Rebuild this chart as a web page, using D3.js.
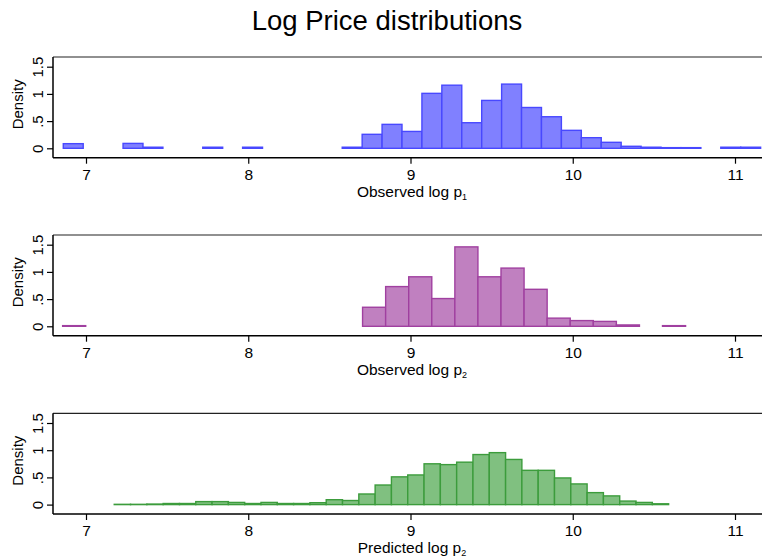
<!DOCTYPE html>
<html>
<head>
<meta charset="utf-8">
<script src="https://cdn.jsdelivr.net/npm/d3@7"></script>
<style>
  html, body { margin: 0; padding: 0; background: #fff; }
  svg { display: block; }
  text { font-family: "Liberation Sans", Arial, Helvetica, sans-serif; fill: #000; }
</style>
</head>
<body>
<svg id="chart" width="762" height="557"></svg>
<script>
// ---------- data ----------
const title = "Log Price distributions";
const xTicks = [7, 8, 9, 10, 11];
const yTicks = [0, 0.5, 1, 1.5];
const yTickLabels = ["0", ".5", "1", "1.5"];

// Panel 1: Observed log p1 (35 bins)
const p1Start = 6.86, p1Width = 0.1228;
const p1Density = [0.085, 0, 0, 0.09, 0.02, 0, 0, 0.02, 0, 0.02,
                   0, 0, 0, 0, 0.02, 0.257, 0.44, 0.31, 1.01, 1.16,
                   0.47, 0.88, 1.18, 0.75, 0.58, 0.33, 0.195, 0.11, 0.037, 0.02,
                   0.012, 0.012, 0, 0.02, 0.02];

// Panel 2: Observed log p2 (27 bins)
const p2Start = 6.856, p2Width = 0.1422;
const p2Density = [0.012, 0, 0, 0, 0, 0, 0, 0, 0, 0,
                   0, 0, 0, 0.35, 0.73, 0.91, 0.51, 1.46, 0.91, 1.07,
                   0.68, 0.15, 0.105, 0.09, 0.025, 0, 0.012];

// Panel 3: Predicted log p2 (34 bins)
const p3Start = 7.174, p3Width = 0.1005;
const p3Density = [0.005, 0.005, 0.01, 0.02, 0.02, 0.055, 0.055, 0.04, 0.02, 0.04,
                   0.02, 0.02, 0.035, 0.09, 0.075, 0.195, 0.36, 0.51, 0.545, 0.75,
                   0.735, 0.78, 0.92, 0.955, 0.83, 0.63, 0.63, 0.49, 0.38, 0.22,
                   0.16, 0.065, 0.04, 0.015];

const panels = [
  { start: p1Start, width: p1Width, dens: p1Density, label: "Observed log p", sub: "1",
    fill: "#8080ff", stroke: "#4848ff", top: 57 },
  { start: p2Start, width: p2Width, dens: p2Density, label: "Observed log p", sub: "2",
    fill: "#c080c0", stroke: "#a040a0", top: 235 },
  { start: p3Start, width: p3Width, dens: p3Density, label: "Predicted log p", sub: "2",
    fill: "#80c080", stroke: "#3c9c3c", top: 413.3 }
];

// ---------- drawing ----------
const svg = d3.select("#chart");

svg.append("text")
  .attr("x", 387).attr("y", 30)
  .attr("text-anchor", "middle")
  .style("font-size", "27.5px")
  .text(title);

const plotLeft = 53, plotRight = 771;
const x = d3.scaleLinear().domain([7, 11]).range([86, 735]);
const panelH = 100.7;

panels.forEach(p => {
  const top = p.top, bottom = top + panelH;
  const y = d3.scaleLinear().domain([0, 1.5]).range([top + 91.3, top + 9.7]);
  const g = svg.append("g");

  // bins
  const bins = p.dens.map((d, i) => ({
    x0: p.start + i * p.width,
    x1: p.start + (i + 1) * p.width,
    d: d
  })).filter(b => b.d > 0);

  g.selectAll("rect.bar").data(bins).enter().append("rect")
    .attr("class", "bar")
    .attr("x", b => x(b.x0))
    .attr("width", b => x(b.x1) - x(b.x0))
    .attr("y", b => y(b.d))
    .attr("height", b => y(0) - y(b.d))
    .attr("fill", p.fill)
    .attr("stroke", p.stroke)
    .attr("stroke-width", 1.4);

  // frame: top, left, bottom
  g.append("line").attr("x1", plotLeft).attr("x2", plotRight)
    .attr("y1", top).attr("y2", top).attr("stroke", "#222").attr("stroke-width", 1.2);
  g.append("line").attr("x1", plotLeft).attr("x2", plotLeft)
    .attr("y1", top).attr("y2", bottom).attr("stroke", "#000").attr("stroke-width", 1.5);

  // x axis
  const xAxis = d3.axisBottom(x).tickValues(xTicks).tickSize(6).tickPadding(5)
    .tickFormat(d3.format("d"));
  const xa = g.append("g").attr("transform", `translate(0,${bottom})`).call(xAxis);
  xa.select(".domain").attr("d", `M${plotLeft},0H${plotRight}`)
    .attr("stroke", "#000").attr("stroke-width", 1.5);
  xa.selectAll(".tick line").attr("stroke", "#000").attr("stroke-width", 1.2);
  xa.selectAll(".tick text").style("font-size", "15.5px").attr("font-family", null)
    .attr("dy", "0.71em").attr("y", 11);

  // y axis
  const yAxis = d3.axisLeft(y).tickValues(yTicks).tickSize(6).tickPadding(4)
    .tickFormat((d, i) => yTickLabels[i]);
  const ya = g.append("g").attr("transform", `translate(${plotLeft},0)`).call(yAxis);
  ya.select(".domain").remove();
  ya.selectAll(".tick line").attr("stroke", "#000").attr("stroke-width", 1.2);
  ya.selectAll(".tick text")
    .style("font-size", "15px").attr("font-family", null)
    .attr("x", null).attr("dy", null)
    .attr("text-anchor", "middle")
    .attr("transform", "translate(-10,0) rotate(-90)");

  // y title
  g.append("text")
    .attr("transform", `translate(23,${(top + bottom) / 2 - 3}) rotate(-90)`)
    .attr("text-anchor", "middle")
    .style("font-size", "15px")
    .text("Density");

  // x title with subscript
  const t = g.append("text")
    .attr("x", 412).attr("y", bottom + 39)
    .attr("text-anchor", "middle")
    .style("font-size", "15.5px");
  t.append("tspan").text(p.label);
  t.append("tspan").attr("dy", 3).style("font-size", "9px").text(p.sub);
});
</script>
</body>
</html>
